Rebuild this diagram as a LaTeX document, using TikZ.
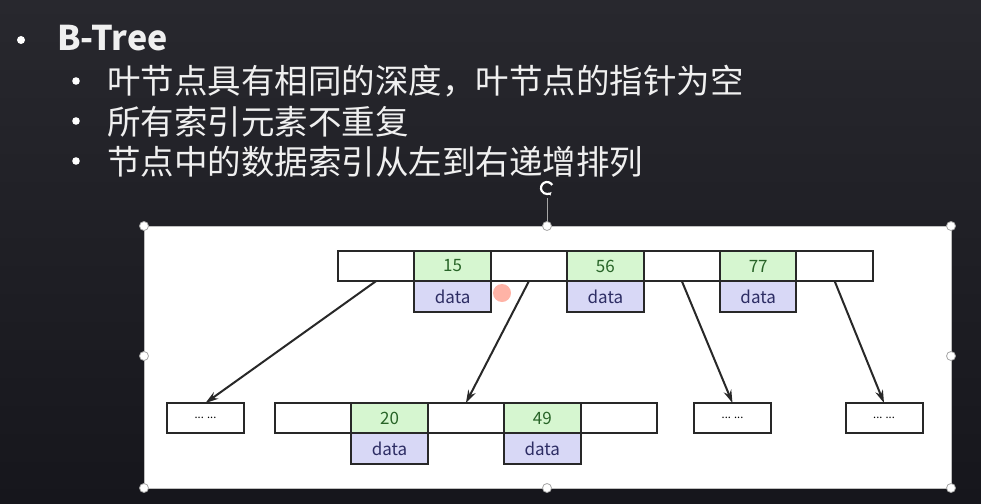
\documentclass[tikz,border=0pt]{standalone}
\usepackage{fontspec}
\setmainfont{Noto Sans CJK SC}
\usetikzlibrary{arrows.meta, positioning}

\definecolor{slidebg}{RGB}{40,40,46}
\definecolor{slidebgdark}{RGB}{22,22,28}
\definecolor{keyfill}{RGB}{214,246,208}
\definecolor{keytext}{RGB}{40,100,40}
\definecolor{datafill}{RGB}{216,216,246}
\definecolor{datatext}{RGB}{45,45,100}
\definecolor{cellline}{RGB}{40,40,40}

\tikzset{
  cell/.style={draw=cellline, line width=2pt, minimum width=76.4pt,
               minimum height=30pt, inner sep=0pt, outer sep=0pt,
               font=\fontsize{17}{17}\selectfont},
  ptr/.style={cell, fill=white},
  key/.style={cell, fill=keyfill, text=keytext},
  datacell/.style={cell, fill=datafill, text=datatext, minimum height=31pt},
  more/.style={cell, fill=white, minimum width=77pt, font=\fontsize{11}{11}\selectfont},
  handle/.style={fill=white, draw=gray!70, line width=0.8pt},
  slidetext/.style={text=white!94!black, anchor=base west, inner sep=0pt,
                    font=\fontsize{33.5}{40}\selectfont},
  link/.style={draw=cellline, line width=2pt, -{Stealth[length=13pt, width=8pt]}},
}

\begin{document}
\begin{tikzpicture}[x=1pt, y=-1pt]
  \useasboundingbox (0,0) rectangle (981,503);
  % Slide background
  \shade[top color=slidebg, bottom color=slidebgdark] (0,0) rectangle (981,503);

  % Bullet text
  \fill[white] (21,40) circle (4pt);
  \node[slidetext, font=\fontsize{34}{40}\selectfont\bfseries] (title) at (57,50) {B-Tree};
  \fill[white] (76,81) circle (3.8pt);
  \node[slidetext] (line1) at (107,93) {叶节点具有相同的深度，叶节点的指针为空};
  \fill[white] (76,121) circle (3.8pt);
  \node[slidetext] (line2) at (107,134) {所有索引元素不重复};
  \fill[white] (76,161) circle (3.8pt);
  \node[slidetext] (line3) at (107,174) {节点中的数据索引从左到右递增排列};

  % White panel with selection handles
  \fill[white] (144,226) rectangle (951,488);
  \draw[gray!50, line width=0.6pt] (144,226) rectangle (951,488);
  \draw[gray!70, line width=1pt] (547,226) -- (547,198);
  \draw[white, line width=2.2pt, -{Stealth[length=4pt]}] (547,188) ++(30:6pt) arc (30:320:6pt);
  \foreach \hx/\hy in {144/226, 547/226, 951/226, 144/356, 951/356,
                       144/488, 547/488, 951/488}
    \filldraw[handle] (\hx,\hy) circle (4.5pt);

  % Root node
  \node[ptr] (r0) at (376.2,266) {};
  \node[key, right=0pt of r0] (r1) {15};
  \node[ptr, right=0pt of r1] (r2) {};
  \node[key, right=0pt of r2] (r3) {56};
  \node[ptr, right=0pt of r3] (r4) {};
  \node[key, right=0pt of r4] (r5) {77};
  \node[ptr, right=0pt of r5] (r6) {};
  \node[datacell, below=0pt of r1] (rd1) {data};
  \node[datacell, below=0pt of r3] (rd3) {data};
  \node[datacell, below=0pt of r5] (rd5) {data};

  % Child nodes
  \node[more] (c0) at (205.5,418) {... ...};
  \node[ptr] (m0) at (313.1,418) {};
  \node[key, right=0pt of m0] (m1) {20};
  \node[ptr, right=0pt of m1] (m2) {};
  \node[key, right=0pt of m2] (m3) {49};
  \node[ptr, right=0pt of m3] (m4) {};
  \node[datacell, below=0pt of m1] (md1) {data};
  \node[datacell, below=0pt of m3] (md3) {data};
  \node[more] (c2) at (732.5,418) {... ...};
  \node[more] (c3) at (884,418) {... ...};

  % Pointers
  \draw[link] (r0.south) -- (c0.north);
  \draw[link] (r2.south) -- (m2.north);
  \draw[link] (r4.south) -- (c2.north);
  \draw[link] (r6.south) -- (c3.north);

  % Laser dot
  \fill[red!70!orange, opacity=0.35] (502,293) circle (9pt);
\end{tikzpicture}
\end{document}
